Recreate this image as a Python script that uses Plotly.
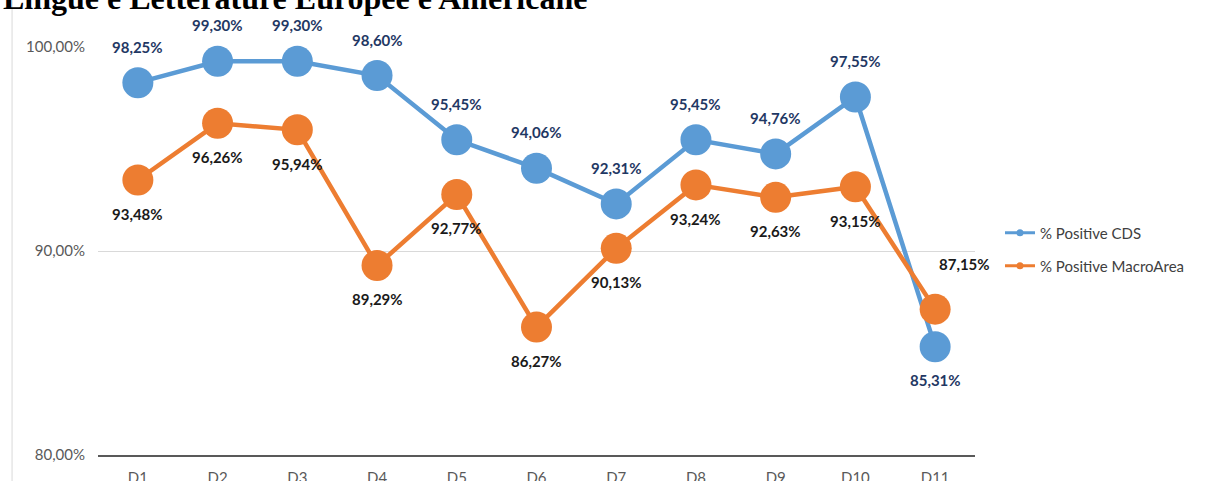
import plotly.graph_objects as go

# data
categories = ["D1", "D2", "D3", "D4", "D5", "D6", "D7", "D8", "D9", "D10", "D11"]
cds_values = [98.25, 99.30, 99.30, 98.60, 95.45, 94.06, 92.31, 95.45, 94.76, 97.55, 85.31]
macro_values = [93.48, 96.26, 95.94, 89.29, 92.77, 86.27, 90.13, 93.24, 92.63, 93.15, 87.15]
y_ticks = [80, 90, 100]

TITLE = "Lingue e Letterature Europee e Americane"
BLUE = "#5B9BD5"
ORANGE = "#ED7D31"
FONT = "Lato"


def pct(v):
    return f"{v:.2f}".replace(".", ",") + "%"


fig = go.Figure()

fig.add_trace(go.Scatter(
    x=categories, y=cds_values, mode="lines+markers", name="% Positive CDS",
    line=dict(color=BLUE, width=4.5), marker=dict(size=31, color=BLUE),
    cliponaxis=False, showlegend=False,
))
fig.add_trace(go.Scatter(
    x=categories, y=macro_values, mode="lines+markers", name="% Positive MacroArea",
    line=dict(color=ORANGE, width=4.5), marker=dict(size=31, color=ORANGE),
    cliponaxis=False, showlegend=False,
))

# small legend entries (separate legends so the spacing can match)
fig.add_trace(go.Scatter(
    x=[None], y=[None], mode="lines+markers", name="% Positive CDS",
    line=dict(color=BLUE, width=3), marker=dict(size=7, color=BLUE), legend="legend",
))
fig.add_trace(go.Scatter(
    x=[None], y=[None], mode="lines+markers", name="% Positive MacroArea",
    line=dict(color=ORANGE, width=3), marker=dict(size=7, color=ORANGE), legend="legend2",
))

# data labels
for i, (c, v) in enumerate(zip(categories, cds_values)):
    below = i == len(categories) - 1
    fig.add_annotation(
        x=c, y=v, text=pct(v), showarrow=False,
        yshift=-33 if below else 36,
        font=dict(family=FONT, size=15, color="#1F3864", weight="bold"),
    )
for i, (c, v) in enumerate(zip(categories, macro_values)):
    last = i == len(categories) - 1
    fig.add_annotation(
        x=c, y=v, text=pct(v), showarrow=False,
        yshift=45 if last else -34, xshift=29 if last else 0,
        font=dict(family=FONT, size=15, color="#1a1a1a", weight="bold"),
    )

# title, clipped by the top edge like in the reference
fig.add_annotation(
    x=0, y=1, xref="paper", yref="paper", xanchor="left", yanchor="middle",
    xshift=-97, yshift=49, text="<b>" + TITLE + "</b>", showarrow=False,
    font=dict(family="Liberation Serif", size=32, color="#000000"),
)

# chart area border on the left
fig.add_shape(
    type="line", xref="paper", yref="paper", x0=-0.098, x1=-0.098, y0=-0.2, y1=1.2,
    line=dict(color="#d9d9d9", width=1),
)

fig.update_xaxes(
    type="category", range=[-0.5, len(categories) - 0.5],
    showgrid=False, showline=True, linecolor="#595959", linewidth=2,
    ticks="", ticklabelstandoff=8, automargin=False,
    tickfont=dict(family=FONT, size=15, color="#595959"),
)
fig.update_yaxes(
    range=[80, 100], tickvals=y_ticks, ticktext=[pct(t) for t in y_ticks],
    showgrid=True, gridcolor="#d9d9d9", gridwidth=1, zeroline=False,
    ticks="", ticklabelstandoff=12, automargin=False,
    tickfont=dict(family=FONT, size=15, color="#595959"),
)

fig.update_layout(
    width=1207, height=481, autosize=False,
    margin=dict(l=98, r=232, t=47, b=26, autoexpand=False),
    paper_bgcolor="white", plot_bgcolor="white",
    legend=dict(x=1.0285, y=0.544, xanchor="left", yanchor="middle",
                font=dict(family=FONT, size=15, color="#404040")),
    legend2=dict(x=1.0285, y=0.463, xanchor="left", yanchor="middle",
                 font=dict(family=FONT, size=15, color="#404040")),
)

# drop the default page margin so the figure sits at the window's corner
fig.write_html(
    "out.html",
    config={"displayModeBar": False},
    post_script="document.body.style.margin = '0';",
)
